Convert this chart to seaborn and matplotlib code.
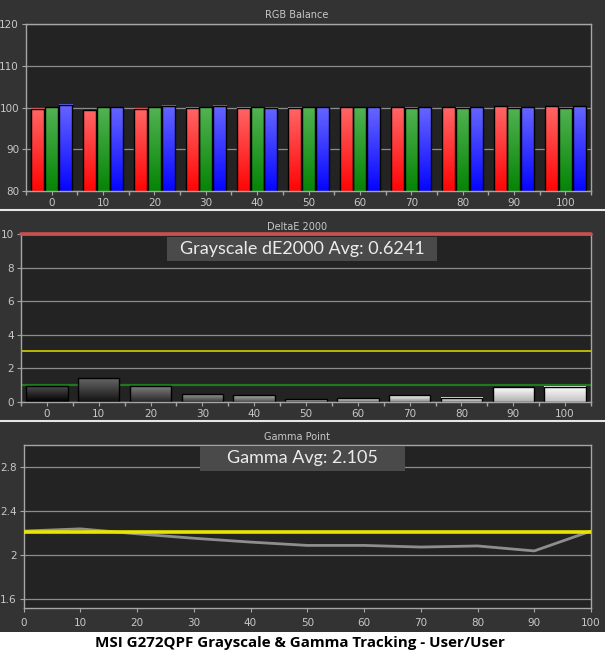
import numpy as np
import pandas as pd
import matplotlib
matplotlib.use("Agg")
import matplotlib.pyplot as plt
from matplotlib.patches import Rectangle
from matplotlib.lines import Line2D
from matplotlib.ticker import FixedLocator
import seaborn as sns

# readings per stimulus level
levels = [0, 10, 20, 30, 40, 50, 60, 70, 80, 90, 100]
red = [99.7, 99.4, 99.7, 99.9, 99.9, 99.9, 100.1, 100.1, 100.1, 100.3, 100.3]
green = [100.1, 100.1, 100.1, 100.1, 100.1, 100.1, 100.1, 99.9, 99.9, 99.9, 99.9]
blue = [100.6, 100.1, 100.4, 100.4, 100.0, 100.1, 100.1, 100.1, 100.1, 100.1, 100.3]
delta_e = [0.95, 1.4, 0.95, 0.45, 0.4, 0.15, 0.2, 0.4, 0.25, 0.85, 0.9]
gamma = [2.22, 2.24, 2.195, 2.155, 2.12, 2.09, 2.09, 2.075, 2.085, 2.04, 2.22]
gamma_target = 2.215
de_avg = "0.6241"
gamma_avg = "2.105"
caption = "MSI G272QPF Grayscale & Gamma Tracking - User/User"

BG = "#333333"
PANEL = "#232323"
GRID = "#8c8c8c"
SPINE = "#a6a6a6"
TXT = "#c8c8c8"
W, H = 605, 652

sns.set_theme(style="dark")
plt.rcParams["font.family"] = ["DejaVu Sans"]

fig = plt.figure(figsize=(W / 100, H / 100), dpi=100, facecolor=BG)


def px_axes(l, t, r, b):
    return fig.add_axes([l / W, 1 - b / H, (r - l) / W, (b - t) / H])


def style(ax, title, title_y):
    ax.set_facecolor(PANEL)
    for s in ax.spines.values():
        s.set_visible(True)
        s.set_color(SPINE)
        s.set_linewidth(1)
    ax.tick_params(colors=TXT, labelsize=7.5, length=3, width=0.8, pad=2)
    ax.tick_params(axis="both", which="both", color=SPINE, bottom=True, left=True)
    ax.grid(axis="y", color=GRID, lw=0.9)
    ax.grid(axis="x", visible=False)
    ax.set_axisbelow(True)
    ax.set_xlabel("")
    ax.set_ylabel("")
    fig.text(297 / W, 1 - title_y / H, title, ha="center", va="center",
             color=TXT, fontsize=7)


def shade(ax, patch, top, bottom):
    # vertical gradient laid over a bar, edge kept on top
    ylo, yhi = ax.get_ylim()
    x0, w = patch.get_x(), patch.get_width()
    y0 = max(patch.get_y(), ylo)
    y1 = min(patch.get_y() + patch.get_height(), yhi)
    if y1 <= y0:
        return
    t = np.linspace(0, 1, 64)[:, None]
    img = np.array(top)[None, :] * (1 - t) + np.array(bottom)[None, :] * t
    ax.imshow(img[:, None, :], extent=(x0, x0 + w, y0, y1), aspect="auto",
              origin="upper", zorder=1.5, interpolation="bilinear")
    patch.set_facecolor("none")
    patch.set_zorder(2)


def cat_ticks(ax):
    ax.set_xlim(-0.5, len(levels) - 0.5)
    ax.xaxis.set_minor_locator(FixedLocator(np.arange(-0.5, len(levels), 1)))
    ax.tick_params(axis="x", which="major", length=0, pad=4)
    ax.tick_params(axis="x", which="minor", length=3, color=SPINE)


# ---- RGB balance ----
ax1 = px_axes(26, 24, 591, 191)
rgb_df = pd.DataFrame({
    "level": levels * 3,
    "channel": ["R"] * 11 + ["G"] * 11 + ["B"] * 11,
    "value": red + green + blue,
})
sns.barplot(data=rgb_df, x="level", y="value", hue="channel", order=levels,
            palette=["#ff2020", "#109010", "#2020ff"], width=0.8, gap=0.05,
            edgecolor="black", linewidth=1, legend=False, ax=ax1)
ax1.set_ylim(80, 120)
ax1.set_yticks([80, 90, 100, 110, 120])
cat_ticks(ax1)
style(ax1, "RGB Balance", 15)
grad_rgb = [((1, 0.40, 0.40), (1, 0.02, 0.02)),
            ((0.32, 0.70, 0.32), (0.02, 0.52, 0.02)),
            ((0.40, 0.40, 1), (0.02, 0.02, 1))]
for cont, (top, bot) in zip(ax1.containers, grad_rgb):
    for p in cont:
        shade(ax1, p, top, bot)
ax1.set_xlim(-0.5, len(levels) - 0.5)
ax1.set_ylim(80, 120)

# ---- DeltaE 2000 ----
ax2 = px_axes(21, 234, 591, 401.7)
de_df = pd.DataFrame({"level": levels, "dE": delta_e})
sns.barplot(data=de_df, x="level", y="dE", order=levels, color="#777777",
            width=0.8, edgecolor="black", linewidth=1, ax=ax2)
ax2.set_ylim(0, 10)
ax2.set_yticks([0, 2, 4, 6, 8, 10])
cat_ticks(ax2)
style(ax2, "DeltaE 2000", 226.7)
ax2.axhline(1, color="#1f7a1f", lw=1.6, zorder=0.8)
ax2.axhline(3, color="#d2d200", lw=1.2, zorder=0.8)
ax2.axhline(10, color="#c85050", lw=2.6, zorder=3, clip_on=False)
for p, lv in zip(ax2.patches, levels):
    g = lv / 100
    top = [min(1.0, g + 0.3)] * 3
    bot = [g * 0.76] * 3
    shade(ax2, p, top, bot)
ax2.set_xlim(-0.5, len(levels) - 0.5)
ax2.set_ylim(0, 10)

# ---- Gamma point ----
ax3 = px_axes(23.5, 445, 591, 608.3)
ax3.axhline(gamma_target, color="#e6e600", lw=2.6, zorder=3)
sns.lineplot(x=levels, y=gamma, color="#8e8e8e", lw=2, ax=ax3, zorder=2.5)
ax3.set_xlim(0, 100)
ax3.set_ylim(1.52, 3.0)
ax3.set_xticks(levels)
ax3.set_yticks([1.6, 2.0, 2.4, 2.8])
ax3.set_yticklabels(["1.6", "2", "2.4", "2.8"])
style(ax3, "Gamma Point", 437)
ax3.tick_params(axis="x", pad=4)

# ---- average boxes ----
for (l, t, r, b), label in [((167, 236.7, 437, 260.7), "Grayscale dE2000 Avg: " + de_avg),
                            ((200, 446, 405, 470.7), "Gamma Avg: " + gamma_avg)]:
    fig.add_artist(Rectangle((l / W, 1 - b / H), (r - l) / W, (b - t) / H,
                             transform=fig.transFigure, fc="#4a4a4a", ec="none",
                             zorder=5))
    fig.text((l + r) / 2 / W, 1 - (t + b) / 2 / H, label, ha="center",
             va="center", color="#ececec", fontsize=13, family="Lato", zorder=6)

# ---- separators and caption band ----
for y in (210, 421):
    fig.add_artist(Line2D([0, 1], [1 - y / H, 1 - y / H], color="#e6e6e6",
                          lw=1.5, transform=fig.transFigure))
fig.add_artist(Rectangle((0, 0), 1, 20 / H, transform=fig.transFigure,
                         fc="white", ec="none"))
fig.text(300 / W, 1 - 643 / H, caption, ha="center", va="center",
         color="black", fontsize=10.9, fontweight="bold", family="Open Sans")

fig.savefig("out.png", dpi=100, facecolor=BG)
